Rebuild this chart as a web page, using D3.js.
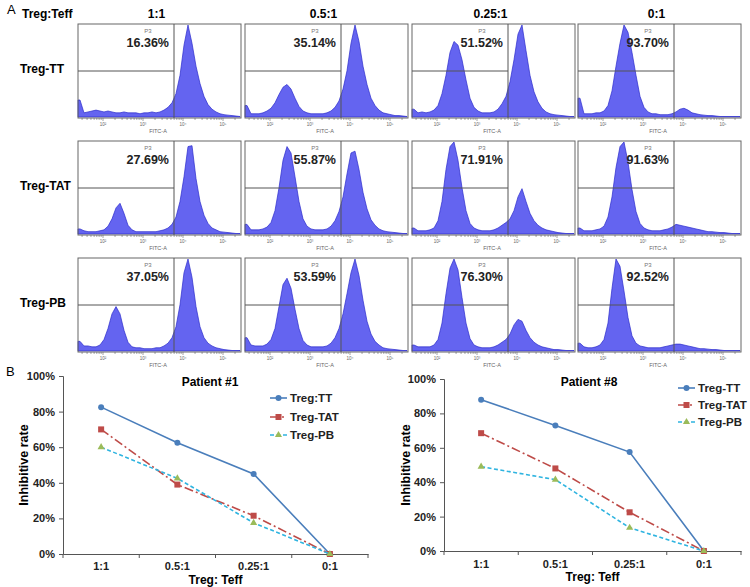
<!DOCTYPE html>
<html><head><meta charset="utf-8">
<script src="https://cdn.jsdelivr.net/npm/d3@7"></script>
<style>
html,body{margin:0;padding:0;background:#fff;}
text{font-family:"Liberation Sans",Arial,sans-serif;}
</style></head>
<body><svg id="c" width="750" height="587"></svg>
<script>
// ---------- DATA ----------
const ratios = ["1:1", "0.5:1", "0.25:1", "0:1"];
const tregGroups = ["Treg-TT", "Treg-TAT", "Treg-PB"];
const gatePercents = [
  ["16.36%", "35.14%", "51.52%", "93.70%"],
  ["27.69%", "55.87%", "71.91%", "91.63%"],
  ["37.05%", "53.59%", "76.30%", "92.52%"]
];
// histogram counts (relative, 0-100), 41 bins of 0.1 decade from 10^1.375
const histTT = [
  [18,4,5,6,7,6,5,6,5,4,4,5,4,4,4,3,4,4,5,4,5,7,10,15,25,45,78,100,80,55,36,22,13,8,5,3,2,1.5,1,0.5,0],
  [12,3,3,3,4,6,9,15,24,32,35,30,20,11,6,4,3,3,3,3,4,6,10,17,30,50,80,100,82,55,35,20,12,7,4,3,2,1,1,0.5,0],
  [8,4,5,4,5,7,12,25,45,70,82,78,62,40,20,10,6,4,4,4,5,8,14,22,38,62,90,100,72,45,27,16,9,5,3,2,1.5,1,0.5,0,0],
  [20,3,3,3,4,4,6,12,28,55,80,100,92,70,45,22,10,5,3,3,2,2,2,3,5,8,9,7,4,3,2,1.5,1,1,0.5,0,0,0,0,0,0]
];
const histTAT = [
  [5,3,2,2,2,3,4,8,16,28,33,22,9,4,2,2,2,2,2,2,3,4,6,10,18,35,62,95,96,60,35,20,11,6,4,2,1.5,1,0.5,0,0],
  [10,4,4,4,5,7,12,25,50,80,95,88,62,35,16,8,5,4,4,4,5,8,14,24,40,65,88,90,70,45,27,15,9,5,3,2,1.5,1,0.5,0,0],
  [6,3,3,3,4,6,14,35,70,95,100,80,50,25,11,6,4,3,3,3,4,6,9,12,16,25,40,49,35,22,14,9,6,4,3,2,1,0.5,0,0,0],
  [6,3,3,3,4,5,8,18,40,72,95,100,78,48,24,11,6,4,3,3,3,4,5,7,10,9,8,7,6,5,4,3,2,2,1.5,1,1,0.5,0,0,0]
];
const histPB = [
  [10,5,5,4,4,6,12,24,40,48,40,22,9,4,3,3,2,2,2,3,3,5,8,14,26,50,85,100,80,48,26,14,8,5,3,2,1,0.5,0,0,0],
  [14,6,5,5,5,7,12,24,48,72,79,68,45,24,11,6,4,4,4,4,5,8,14,24,40,62,85,100,82,55,32,18,10,6,3,2,1.5,1,0.5,0,0],
  [6,4,4,4,4,6,12,30,62,90,100,88,58,30,13,6,4,3,3,3,4,6,9,12,18,28,34,32,22,14,9,6,4,3,2,1,1,0.5,0,0,0],
  [8,4,3,3,4,6,12,30,68,100,92,65,36,16,8,5,4,3,3,3,3,4,5,6,7,7,6,5,4,3,2,2,1.5,1,1,0.5,0,0,0,0,0]
];
const histRows = [histTT, histTAT, histPB];
const fitcLogMin = 1.375, fitcLogMax = 5.45, binStep = 0.1;
const decadeLabels = ["10\u00b2", "10\u00b3", "10\u2074", "10\u2075"];

// panel B data (% inhibitive rate)
const lineCategories = ["1:1", "0.5:1", "0.25:1", "0:1"];
const yTicks = [0, 20, 40, 60, 80, 100];
const p1TT = [82.5, 62.5, 45, 0];
const p1TAT = [70, 39, 21.5, 0];
const p1PB = [60, 42.5, 17.5, 0];
const p8TT = [88, 73, 57.5, 0];
const p8TAT = [68.5, 48, 22.5, 0];
const p8PB = [49, 41.5, 13.5, 0];
const p1Names = ["Treg:TT", "Treg-TAT", "Treg-PB"];
const p8Names = ["Treg-TT", "Treg-TAT", "Treg-PB"];

// ---------- DRAW ----------
const svg = d3.select("#c");
const colX = [78, 245, 412, 578], rowY = [24, 141, 258];
const PW = 163, PH = 94, gateX = 96, gateY = 47;

svg.append("text").attr("x", 7).attr("y", 14).attr("font-size", 13).text("A");
svg.append("text").attr("x", 22).attr("y", 18).attr("font-size", 12).attr("font-weight", "bold").text("Treg:Teff");
ratios.forEach((r, j) => {
  svg.append("text").attr("x", colX[j] + PW / 2 - 3).attr("y", 18).attr("text-anchor", "middle")
    .attr("font-size", 12).attr("font-weight", "bold").text(r);
});
tregGroups.forEach((g, i) => {
  svg.append("text").attr("x", 20).attr("y", rowY[i] + 49).attr("font-size", 12)
    .attr("font-weight", "bold").text(g);
});

histRows.forEach((row, i) => {
  row.forEach((counts, j) => {
    const x0 = colX[j], y0 = rowY[i];
    const g = svg.append("g").attr("transform", `translate(${x0},${y0})`);
    const xs = d3.scaleLog().domain([Math.pow(10, fitcLogMin), Math.pow(10, fitcLogMax)]).range([0, PW]);
    const ys = d3.scaleLinear().domain([0, 100]).range([PH - 1.5, 1]);
    const pts = counts.map((c, k) => [Math.pow(10, fitcLogMin + binStep * (k + 0.5)), c]);
    pts.unshift([Math.pow(10, fitcLogMin), counts[0]]);
    const area = d3.area().x(d => xs(d[0])).y0(PH - 1).y1(d => ys(d[1]));
    g.append("path").datum(pts).attr("d", area).attr("fill", "#6464f0")
      .attr("stroke", "#2b2bcc").attr("stroke-width", 0.7);
    // frame and gates
    g.append("rect").attr("x", 0).attr("y", 0).attr("width", PW).attr("height", PH)
      .attr("fill", "none").attr("stroke", "#666").attr("stroke-width", 1);
    g.append("line").attr("x1", gateX).attr("x2", gateX).attr("y1", 0).attr("y2", PH)
      .attr("stroke", "#555").attr("stroke-width", 1);
    g.append("line").attr("x1", 0).attr("x2", gateX).attr("y1", gateY).attr("y2", gateY)
      .attr("stroke", "#555").attr("stroke-width", 1);
    g.append("text").attr("x", 70).attr("y", 9).attr("text-anchor", "middle")
      .attr("font-size", 6).attr("fill", "#777").text("P3");
    g.append("text").attr("x", 91).attr("y", 23).attr("text-anchor", "end")
      .attr("font-size", 12.5).attr("font-weight", "bold").attr("fill", "#222").text(gatePercents[i][j]);
    // log axis
    const ax = g.append("g").attr("transform", `translate(0,${PH})`);
    xs.ticks().forEach(t => {
      const lg = Math.log10(t);
      const major = Math.abs(lg - Math.round(lg)) < 1e-6;
      ax.append("line").attr("x1", xs(t)).attr("x2", xs(t)).attr("y1", 0).attr("y2", major ? 3 : 2)
        .attr("stroke", "#666").attr("stroke-width", 0.6);
    });
    [2, 3, 4, 5].forEach((d, k) => {
      ax.append("text").attr("x", xs(Math.pow(10, d))).attr("y", 8).attr("text-anchor", "middle")
        .attr("font-size", 4.5).attr("fill", "#666").text(decadeLabels[k]);
    });
    ax.append("text").attr("x", 80).attr("y", 15).attr("text-anchor", "middle")
      .attr("font-size", 5.5).attr("fill", "#666").text("FITC-A");
  });
});

svg.append("text").attr("x", 6).attr("y", 376).attr("font-size", 13).text("B");

const seriesStyle = [
  { color: "#4a7ebb", dash: null, marker: "circle" },
  { color: "#be4b48", dash: "9,3,2,3", marker: "square" },
  { color: "#2fb4e0", dash: "4,2.5", marker: "triangle", mcolor: "#9bbb59" }
];

function lineChart(opt) {
  const g = svg.append("g");
  const x = d3.scaleBand().domain(lineCategories).range([opt.x0, opt.x1]);
  const y = d3.scaleLinear().domain([0, 100]).range([opt.yBot, opt.yTop]);
  // y axis
  const ya = g.append("g").attr("transform", `translate(${opt.x0},0)`)
    .call(d3.axisLeft(y).tickValues(yTicks).tickFormat(d => d + "%").tickSize(4).tickPadding(4));
  ya.select(".domain").attr("stroke", "#555");
  ya.selectAll(".tick line").attr("stroke", "#555");
  ya.selectAll("text").attr("font-size", 11).attr("font-weight", "bold").attr("fill", "#222")
    .attr("font-family", "Liberation Sans, Arial, sans-serif");
  // x axis
  const xa = g.append("g").attr("transform", `translate(0,${opt.yBot})`)
    .call(d3.axisBottom(x).tickSize(0).tickPadding(opt.xPad));
  xa.select(".domain").attr("stroke", "#555");
  xa.selectAll("text").attr("font-size", 11).attr("font-weight", "bold").attr("fill", "#222")
    .attr("font-family", "Liberation Sans, Arial, sans-serif");
  lineCategories.forEach(c => {
    const bx = x(c) + x.bandwidth();
    g.append("line").attr("x1", bx).attr("x2", bx).attr("y1", opt.yBot).attr("y2", opt.yBot + 4).attr("stroke", "#555");
  });
  g.append("line").attr("x1", opt.x0).attr("x2", opt.x0).attr("y1", opt.yBot).attr("y2", opt.yBot + 4).attr("stroke", "#555");
  g.append("text").attr("x", (opt.x0 + opt.x1) / 2).attr("y", opt.xTitleY).attr("text-anchor", "middle")
    .attr("font-size", 12).attr("font-weight", "bold").text("Treg: Teff");
  g.append("text").attr("transform", `translate(${opt.yTitleX},${(opt.yTop + opt.yBot) / 2}) rotate(-90)`)
    .attr("text-anchor", "middle").attr("font-size", 12.5).attr("font-weight", "bold").text("Inhibitive rate");
  g.append("text").attr("x", opt.titleX).attr("y", opt.titleY).attr("text-anchor", "middle")
    .attr("font-size", 12).attr("font-weight", "bold").text(opt.title);

  const cx = c => x(c) + x.bandwidth() / 2;
  opt.series.forEach((vals, s) => {
    const st = seriesStyle[s];
    const line = d3.line().x((d, k) => cx(lineCategories[k])).y(d => y(d));
    g.append("path").datum(vals).attr("d", line).attr("fill", "none").attr("stroke", st.color)
      .attr("stroke-width", 1.6).attr("stroke-dasharray", st.dash);
    vals.forEach((v, k) => drawMarker(g, st, cx(lineCategories[k]), y(v)));
    // legend
    const ly = opt.legY[s];
    g.append("line").attr("x1", opt.legX).attr("x2", opt.legX + 17).attr("y1", ly).attr("y2", ly)
      .attr("stroke", st.color).attr("stroke-width", 1.6).attr("stroke-dasharray", st.dash);
    drawMarker(g, st, opt.legX + 8.5, ly);
    g.append("text").attr("x", opt.legX + 20).attr("y", ly + 4).attr("font-size", 11.5)
      .attr("font-weight", "bold").attr("fill", "#222").text(opt.names[s]);
  });
}
function drawMarker(g, st, px, py) {
  if (st.marker === "circle") {
    g.append("circle").attr("cx", px).attr("cy", py).attr("r", 3).attr("fill", st.color);
  } else if (st.marker === "square") {
    g.append("rect").attr("x", px - 3).attr("y", py - 3).attr("width", 6).attr("height", 6).attr("fill", st.color);
  } else {
    g.append("path").attr("d", d3.symbol(d3.symbolTriangle, 22)()).attr("transform", `translate(${px},${py})`)
      .attr("fill", st.mcolor);
  }
}

lineChart({ x0: 63, x1: 368, yTop: 376, yBot: 554, xPad: 8, xTitleY: 584, yTitleX: 28,
  title: "Patient #1", titleX: 210, titleY: 386, legX: 270, legY: [398, 417, 435],
  series: [p1TT, p1TAT, p1PB], names: p1Names });
lineChart({ x0: 444, x1: 741, yTop: 379, yBot: 551, xPad: 9, xTitleY: 581, yTitleX: 410,
  title: "Patient #8", titleX: 589, titleY: 386, legX: 678, legY: [388, 405, 422],
  series: [p8TT, p8TAT, p8PB], names: p8Names });
</script></body></html>
